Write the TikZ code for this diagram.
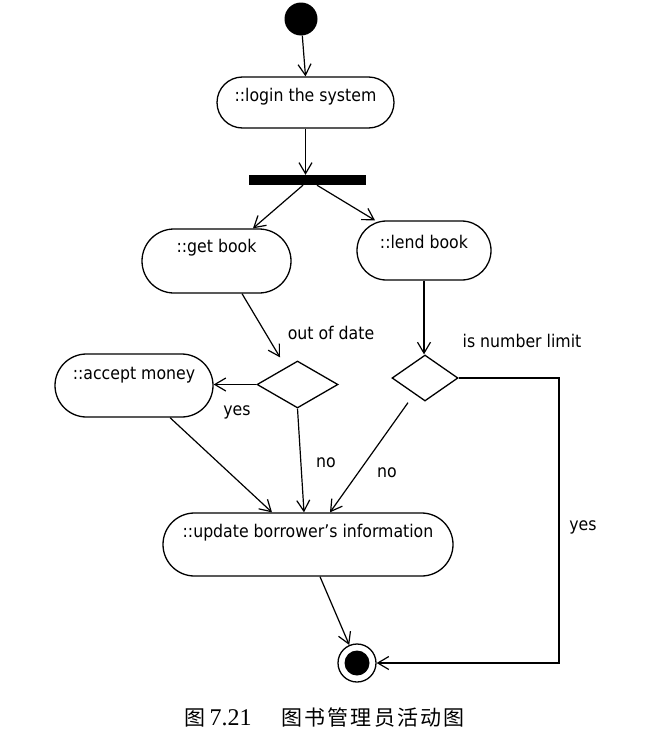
\documentclass[tikz,border=0pt]{standalone}
\usepackage{fontspec}
\setmainfont{DejaVu Sans Condensed}
\newfontfamily\cjk[LetterSpace=10]{Noto Sans CJK SC}
\newfontfamily\capserif{Liberation Serif}
\usetikzlibrary{shapes.misc,shapes.geometric,arrows.meta,calc}
\begin{document}
\begin{tikzpicture}[x=1pt,y=-1pt,
  every node/.style={font=\fontsize{17.5}{19}\selectfont},
  act/.style={rounded rectangle, draw, line width=1.3pt, inner sep=0pt},
  dec/.style={diamond, draw, line width=1.3pt, inner sep=0pt},
  flow/.style={line width=1.2pt, -{Straight Barb[length=11pt,width=13pt,line width=1.2pt]}},
  lbl/.style={inner sep=0pt}]
\useasboundingbox (0,0) rectangle (653,744);
\node[circle, fill=black, minimum size=33pt, inner sep=0pt] (start) at (301,19) {};
\node[act, minimum width=177pt, minimum height=51pt, label={[yshift=5.5pt]center:{::login the system}}] (login) at (305.5,102.5) {};
\node[fill=black, minimum width=117pt, minimum height=10pt, inner sep=0pt] (bar) at (307.5,180) {};
\node[act, minimum width=149pt, minimum height=64pt, label={[yshift=13pt]center:{::get book}}] (gb) at (216.5,261) {};
\node[act, minimum width=134pt, minimum height=59pt, label={[yshift=8.5pt]center:{::lend book}}] (lb) at (424,250.5) {};
\node[act, minimum width=158pt, minimum height=63pt, label={[yshift=10.5pt]center:{::accept money}}] (am) at (134,385.5) {};
\node[dec, minimum width=81pt, minimum height=47pt] (d1) at (297.5,384.5) {};
\node[dec, minimum width=66pt, minimum height=46pt] (d2) at (425,378) {};
\node[act, minimum width=290pt, minimum height=63pt, label={[yshift=11.5pt]center:{::update borrower's information}}] (up) at (308,544.5) {};
\node[circle, draw, line width=1.3pt, minimum size=38pt, inner sep=0pt,
  path picture={\fill (path picture bounding box.center) circle (12.5pt);}] (end) at (357,663) {};
\coordinate (rc) at (559,380);

\draw[flow] (start) -- (login.north);
\draw[flow] (login.south) -- (login.south |- bar.north);
\draw[flow] ([xshift=-4.5pt]bar.south) -- ([xshift=36.5pt]gb.north);
\draw[flow] ([xshift=9.5pt]bar.south) -- ([xshift=-49pt]lb.north);
\draw[flow] ([xshift=25.5pt]gb.south) -- ($(d1.north)+(-17.5,-3)$);
\draw[flow] (d1.west) -- (d1.west -| am.east);
\draw[flow] ([xshift=36pt]am.south) -- ([xshift=-36pt]up.north);
\draw[flow] (d1.south) -- ([xshift=-4pt]up.north);
\draw[flow] (lb.south) -- (lb.south |- d2.north);
\draw[flow] ($(d2.south)+(-17,1)$) -- ([xshift=22pt]up.north);
\draw[flow] (d2.east) -| (rc |- end.east) -- (end.east);
\draw[flow] ([xshift=12pt]up.south) -- (end);

\node[lbl] (ood) at (331,333) {out of date};
\node[lbl] (yes1) at (237,412) {yes};
\node[lbl] (no1) at (326,463) {no};
\node[lbl] (no2) at (387,473) {no};
\node[lbl] (inl) at (522,341) {is number limit};
\node[lbl] (yes2) at (583,527) {yes};
\node[lbl] (cap) at (324.5,718) {{\cjk\fontsize{21}{24}\selectfont 图}\hspace{4pt}{\capserif\fontsize{24}{26}\selectfont 7.21}\hspace{30pt}{\cjk\fontsize{21}{24}\selectfont 图书管理员活动图}};
\end{tikzpicture}
\end{document}
